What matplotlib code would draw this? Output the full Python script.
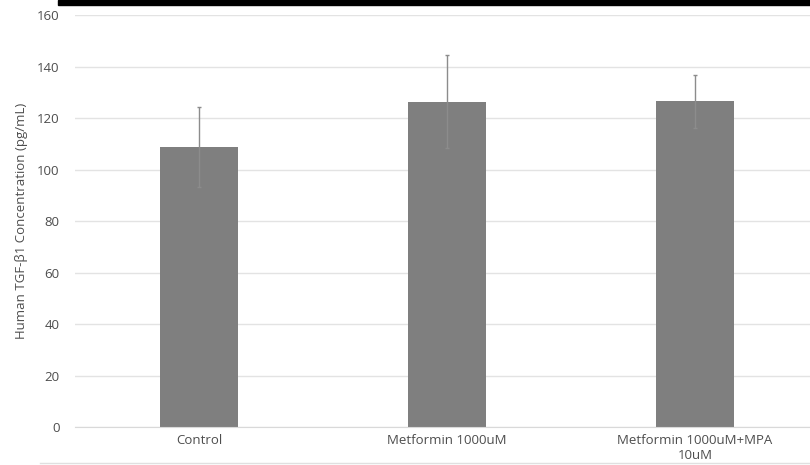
import numpy as np
import matplotlib.pyplot as plt
from matplotlib.patches import Rectangle

categories = ["Control", "Metformin 1000uM", "Metformin 1000uM+MPA\n10uM"]
means = [108.7, 126.4, 126.5]
errors = [15.5, 18.2, 10.3]
yticks = [0, 20, 40, 60, 80, 100, 120, 140, 160]

plt.rcParams['font.family'] = ['Open Sans', 'DejaVu Sans']
txt = '#4d4d4d'

fig = plt.figure(figsize=(8.1, 4.65), dpi=100)
ax = fig.add_axes([75/810, 1-427/465, 744/810, (427-15)/465])

x = np.arange(len(categories))
ax.bar(x, means, width=0.315, color='#7f7f7f', zorder=2)
ax.errorbar(x, means, yerr=errors, fmt='none', ecolor='#8c8c8c', elinewidth=1.0,
            capsize=1.5, capthick=1.0, zorder=3)

ax.set_xlim(-0.5, 2.5)
ax.set_ylim(0, 160)
ax.set_yticks(yticks)
ax.set_xticks(x)
ax.set_xticklabels(categories, fontsize=9.5, color=txt, linespacing=1.25)
ax.tick_params(axis='y', length=0, pad=11, labelsize=9.5, labelcolor=txt)
ax.tick_params(axis='x', length=0, pad=5)
ax.grid(axis='y', color='#e3e3e3', linewidth=1.0, zorder=0)
for s in ['top', 'right', 'left']:
    ax.spines[s].set_visible(False)
ax.spines['bottom'].set_color('#d9d9d9')

fig.text(22/810, 1-221/465, "Human TGF-β1 Concentration (pg/mL)", rotation=90,
         ha='center', va='center', fontsize=9.5, color=txt)

# screenshot remnants: dark bar at top and border line at bottom
fig.patches.append(Rectangle((58/810, 1-5/465), 1, 5/465, transform=fig.transFigure,
                             color='black', zorder=5))
fig.lines.append(plt.Line2D([40/810, 1], [1-463/465, 1-463/465], transform=fig.transFigure,
                            color='#e0e0e0', linewidth=1.0))

fig.savefig('out.png', dpi=100)
